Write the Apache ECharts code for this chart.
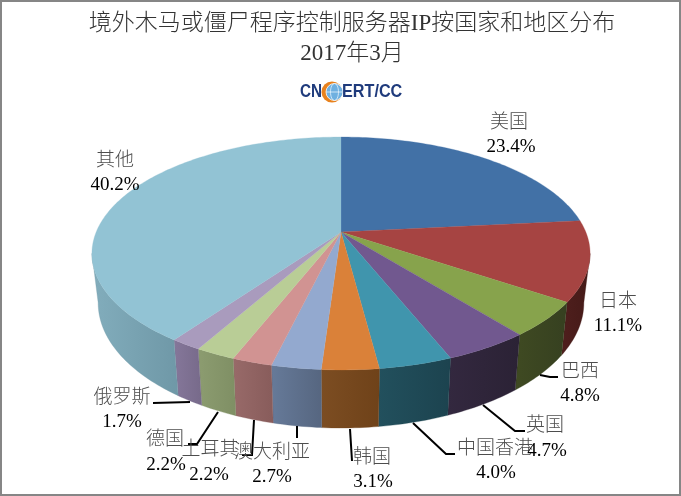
<!DOCTYPE html>
<html><head><meta charset="utf-8">
<style>html,body{margin:0;padding:0;background:#fff}#c{width:681px;height:496px}</style>
<script src="https://cdn.jsdelivr.net/npm/echarts@6/dist/echarts.min.js"></script>
</head><body><div id="c"></div>
<script>
const titleText = '境外木马或僵尸程序控制服务器IP按国家和地区分布\n2017年3月';
const categories = ['美国','日本','巴西','英国','中国香港','韩国','澳大利亚','土耳其','德国','俄罗斯','其他'];
const shares = [23.4,11.1,4.8,4.7,4.0,3.1,2.7,2.2,2.2,1.7,40.2];
const topColors = ['#4271A6','#A64442','#87A34C','#71588F','#4095AD','#DA8139','#93A9CF','#D19392','#B9CD96','#A99BBD','#92C3D4'];
const sideLeft = ['#2f5075','#4f1f1d','#3f4a22','#33283f','#22505d','#7c4d22','#667a99','#986a69','#8c9c70','#85779a','#82adbc'];
const sideRight = ['#2a486a','#451a18','#364020','#2b2235','#1c434f','#6f4219','#566680','#885c5b','#7f8f64','#776a8a','#6f98a7'];
const nameLabelAt = [[509,123],[618,302],[580,372],[545,426],[495,449],[372,458],[272,453],[210,450],[165,440],[122,398],[115,161]];
const valueLabelAt = [[511,147],[618,326],[580,396],[547,451],[496,473],[373,482],[272,477],[209,475],[166,465],[122,422],[115,185]];
const leaderLines = [
  [[540,375],[550,377],[558,377]],
  [[483,405],[515,431],[525,431]],
  [[413,423],[446,454],[455,454]],
  [[350,429],[352,461]],
  [[297,426],[297,438]],
  [[254,420],[252,455],[242,455]],
  [[218,412],[197,444],[188,444]],
  [[190,402],[153,403]]
];

const cx = 341, cy = 232, ax = 244.8, by = 112.5, persp = 0.1845;
const total = shares.reduce((a,b)=>a+b,0);
function topPoint(deg){
  const t = deg*Math.PI/180, x = Math.sin(t), y = -Math.cos(t), w = 1 - persp*y;
  return [cx + ax*x/w, cy + by*y/w];
}
function basePoint(deg){
  const p = topPoint(deg);
  return [cx + 0.975*(p[0]-cx), cy + 47.7 + 1.075*(p[1]-cy)];
}
function arc(fn, a, b){
  const pts = [], n = Math.max(2, Math.ceil(Math.abs(b-a)));
  for(let i=0;i<=n;i++) pts.push(fn(a+(b-a)*i/n));
  return pts;
}
const serif = '"Liberation Serif","Noto Sans CJK SC",serif';
const items = shares.map((v,i)=>({name:categories[i],value:[i,v]}));

function renderSide(params, api){
  const i = api.value(0);
  const before = shares.slice(0,i).reduce((a,b)=>a+b,0);
  const a = before/total*360, b = (before+shares[i])/total*360;
  const lo = Math.max(a,100.6), hi = Math.min(b,259.4);
  if(hi<=lo) return {type:'group',children:[]};
  const t = arc(topPoint,lo,hi), c = arc(basePoint,lo,hi).reverse();
  const xs = t.concat(c).map(p=>p[0]);
  const x0 = Math.min(...xs), x1 = Math.max(...xs);
  return {type:'polygon',shape:{points:t.concat(c)},
    style:{fill:new echarts.graphic.LinearGradient(x0,0,x1,0,[
      {offset:0,color:sideLeft[i]},{offset:1,color:sideRight[i]}],true),
      stroke:sideRight[i],lineWidth:0.3}};
}
function renderTop(params, api){
  const i = api.value(0);
  const before = shares.slice(0,i).reduce((a,b)=>a+b,0);
  const a = before/total*360, b = (before+shares[i])/total*360;
  return {type:'polygon',shape:{points:[[cx,cy]].concat(arc(topPoint,a,b))},
    style:{fill:topColors[i],stroke:topColors[i],lineWidth:0.3}};
}
function renderLabel(params, api){
  const i = api.value(0);
  return {type:'group',children:[
    {type:'text',x:nameLabelAt[i][0],y:nameLabelAt[i][1],z2:20,style:{text:categories[i],
      font:'300 19px '+serif,fill:'#4d4d4d',align:'center',verticalAlign:'middle'}},
    {type:'text',x:valueLabelAt[i][0],y:valueLabelAt[i][1],z2:21,style:{text:shares[i].toFixed(1)+'%',
      font:'19px '+serif,fill:'#000',align:'center',verticalAlign:'middle'}}
  ]};
}
const navy = '#1f3b7c';
const chart = echarts.init(document.getElementById('c'),null,{renderer:'canvas'});
chart.setOption({
  animation:false,
  backgroundColor:'#fff',
  title:{text:titleText,left:347,top:4,textAlign:'center',
    textStyle:{fontFamily:serif,fontSize:23,fontWeight:300,color:'#333',lineHeight:30}},
  graphic:{elements:[
    {type:'rect',shape:{x:1,y:1,width:679,height:494},style:{fill:'none',stroke:'#868686',lineWidth:2},silent:true},
    {type:'text',x:300,y:92,scaleX:0.85,style:{text:'CN',font:'bold 18px "Liberation Sans"',fill:navy,verticalAlign:'middle'}},
    {type:'circle',shape:{cx:332,cy:92,r:10.5},style:{fill:'#e8821e'}},
    {type:'circle',shape:{cx:334.5,cy:92,r:8.5},style:{fill:'#6fb0e0',stroke:'#ffffff',lineWidth:0.8}},
    {type:'ellipse',shape:{cx:334.5,cy:92,rx:4,ry:8.5},style:{fill:'none',stroke:'#e6f2fb',lineWidth:0.8}},
    {type:'line',shape:{x1:326,y1:92,x2:343,y2:92},style:{stroke:'#e6f2fb',lineWidth:0.8}},
    {type:'text',x:342,y:92,scaleX:0.9,style:{text:'ERT/CC',font:'bold 18px "Liberation Sans"',fill:navy,verticalAlign:'middle'}},
    ...leaderLines.map(p=>({type:'polyline',z:10,shape:{points:p},style:{stroke:'#000',lineWidth:2,fill:null}}))
  ]},
  tooltip:{show:false},
  series:[
    {type:'custom',coordinateSystem:'none',name:'侧面',z:1,silent:true,data:items,renderItem:renderSide,clip:false},
    {type:'custom',coordinateSystem:'none',name:'境外木马或僵尸程序控制服务器',z:2,silent:true,data:items,renderItem:renderTop,clip:false},
    {type:'custom',coordinateSystem:'none',name:'标签',z:11,silent:true,data:items,renderItem:renderLabel,clip:false}
  ]
});
</script></body></html>
